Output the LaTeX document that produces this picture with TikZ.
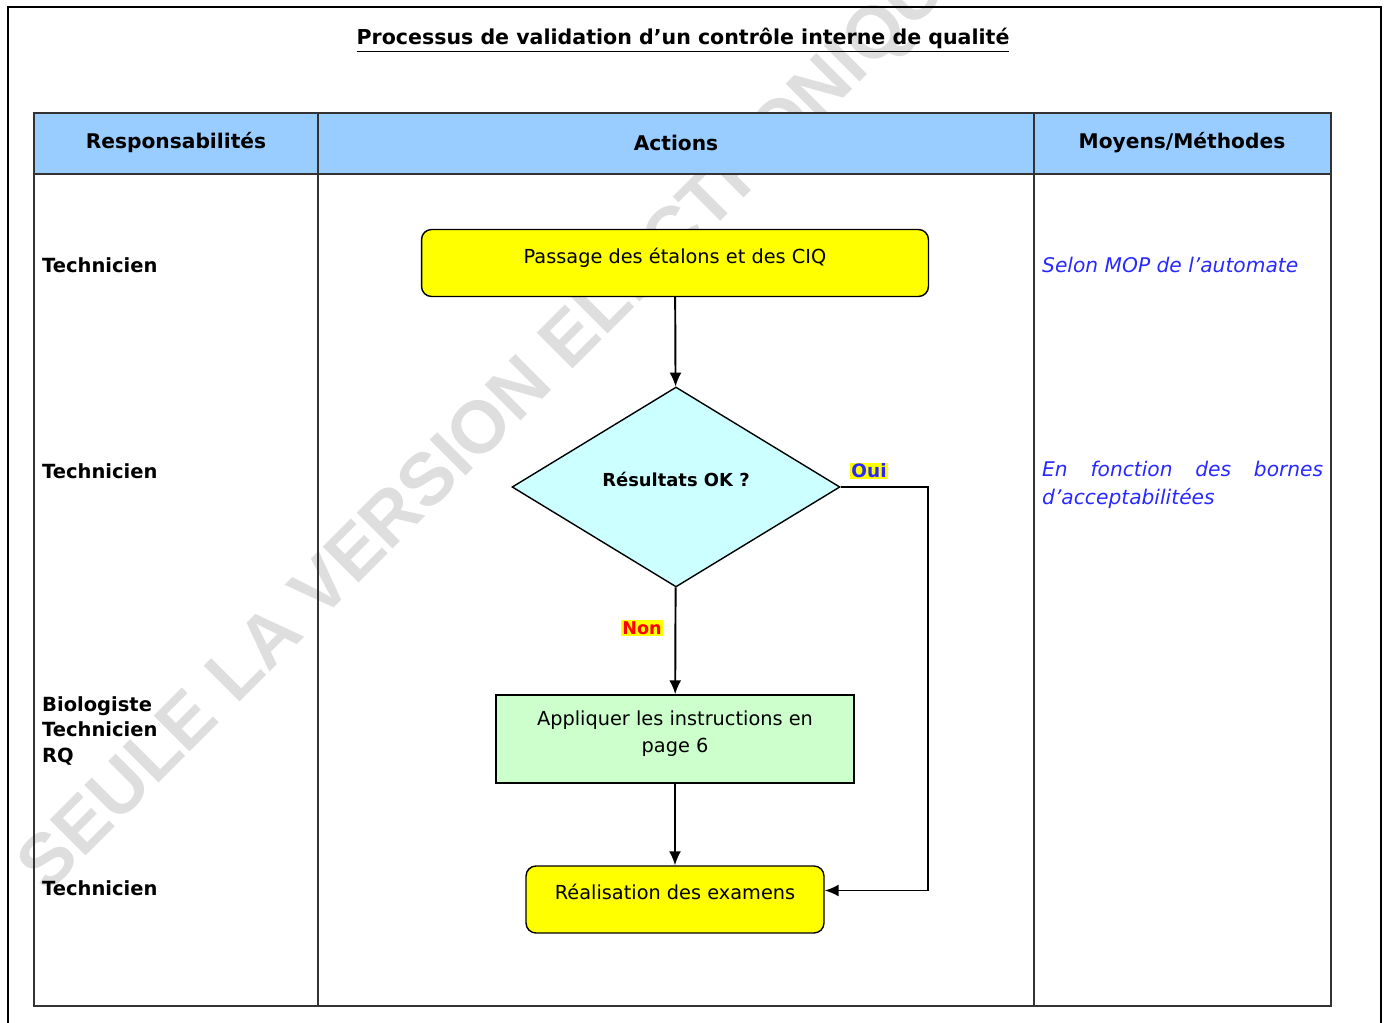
\documentclass[tikz,border=0pt]{standalone}
\usepackage{fontspec}
\setmainfont{DejaVu Sans}
\newfontfamily\filfont{Liberation Sans}
\usetikzlibrary{shapes.geometric,arrows.meta}
\definecolor{entete}{RGB}{153,204,255}
\definecolor{jaune}{RGB}{255,255,0}
\definecolor{cyanclair}{RGB}{204,255,255}
\definecolor{vertclair}{RGB}{204,255,204}
\definecolor{bleutexte}{RGB}{40,40,255}

\begin{document}
\begin{tikzpicture}[x=0.02cm,y=-0.02cm,
    etape/.style={draw, line width=0.8pt, font=\fontsize{11}{15}\selectfont, text depth=0.3cm, align=center},
    fleche/.style={-{Latex[length=0.28cm,width=0.24cm]}, line width=1.1pt},
    role/.style={anchor=west, font=\bfseries\fontsize{11.1}{14.7}\selectfont, align=left},
    moyen/.style={anchor=west, text=bleutexte, font=\itshape\fontsize{11.5}{15.9}\selectfont},
    titrecol/.style={font=\fontsize{11.5}{14}\selectfont\bfseries}]
  \useasboundingbox (0,0) rectangle (1386,1023);
  \clip (0,0) rectangle (1386,1023);
  % filigrane
  \node[rotate=45, anchor=south west, inner sep=0, text=black!13, font=\filfont\bfseries\fontsize{42}{42}\selectfont] (filigrane) at (58,905) {SEULE LA VERSION ELECTRONIQUE};
  % cadre de la page
  \draw[line width=1pt] (8,1023) -- (8,7) -- (1381,7) -- (1381,1023);
  \node[font=\fontsize{11.7}{14}\selectfont\bfseries] (titre) at (683,40) {\underline{Processus de validation d’un contrôle interne de qualité}};
  % tableau
  \fill[entete] (34,113) rectangle (1331,174);
  \draw[line width=1.1pt, black!80] (34,113) rectangle (1331,1006);
  \draw[line width=1.1pt, black!80] (34,174) -- (1331,174);
  \draw[line width=1.1pt, black!80] (318,113) -- (318,1006);
  \draw[line width=1.1pt, black!80] (1034,113) -- (1034,1006);
  \node[titrecol] (resp) at (176,143) {Responsabilités};
  \node[titrecol] (actions) at (676,143) {Actions};
  \node[titrecol] (moyens) at (1182,143) {Moyens/Méthodes};
  % responsabilites
  \node[role] (r1) at (36,265) {Technicien};
  \node[role] (r2) at (36,471) {Technicien};
  \node[role] (r3) at (36,731) {Biologiste\\Technicien\\RQ};
  \node[role] (r4) at (36,888) {Technicien};
  % moyens
  \node[moyen] (m1) at (1036,265) {Selon MOP de l’automate};
  \node[moyen, text width=5.62cm, align=justify] (m2) at (1036,485) {En fonction des bornes d’acceptabilitées};
  % logigramme
  \node[etape, fill=jaune, rounded corners=0.2cm, minimum width=10.14cm, minimum height=1.34cm] (passage) at (675,263) {Passage des étalons et des CIQ};
  \node[etape, diamond, fill=cyanclair, aspect=1.64, inner sep=0, minimum width=6.56cm, minimum height=4cm, font=\bfseries\fontsize{10.2}{12}\selectfont] (resultats) at (676,487) {Résultats OK ?};
  \node[etape, fill=vertclair, minimum width=7.16cm, minimum height=1.76cm] (appliquer) at (675,739) {Appliquer les instructions en\\page 6};
  \node[etape, fill=jaune, rounded corners=0.2cm, minimum width=5.96cm, minimum height=1.34cm] (realisation) at (675,899.5) {Réalisation des examens};
  \coordinate (coin) at (928,487);
  \draw[fleche] (passage) -- (resultats);
  \draw[fleche] (resultats) -- (appliquer);
  \draw[fleche] (appliquer) -- (realisation);
  \draw[fleche] (resultats.east) -- (coin) |- ([yshift=0.18cm]realisation.east);
  \node[fill=jaune, inner sep=0.6pt, text=bleutexte, font=\bfseries\fontsize{10.5}{13}\selectfont] (oui) at (869,471) {Oui};
  \node[fill=jaune, inner sep=0.6pt, text=red, font=\bfseries\fontsize{10}{13}\selectfont] (non) at (642,628) {Non};
\end{tikzpicture}
\end{document}
